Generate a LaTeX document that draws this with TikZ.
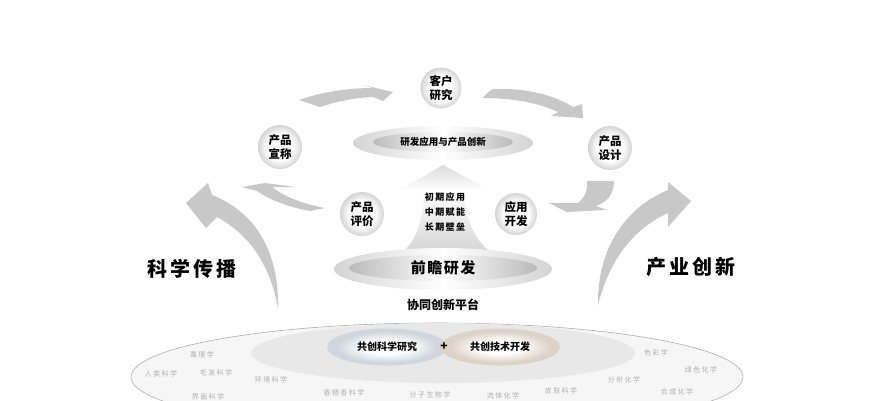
\documentclass[tikz,border=0pt]{standalone}
\usepackage{fontspec}
\setmainfont{Noto Sans CJK SC}
\newfontfamily\widefont[LetterSpace=16]{Noto Sans CJK SC}
\newfontfamily\subjfont[LetterSpace=20]{Noto Sans CJK SC}
\usetikzlibrary{shapes.geometric}
\definecolor{arrowgray}{RGB}{200,200,200}
\definecolor{platebg}{RGB}{246,246,246}
\definecolor{plateline}{RGB}{175,175,175}
\definecolor{midbg}{RGB}{232,232,232}
\definecolor{subjgray}{RGB}{175,175,175}
\definecolor{ballrim}{RGB}{212,212,212}
\definecolor{bluerim}{RGB}{208,214,222}
\definecolor{tanrim}{RGB}{221,210,200}
\pgfdeclareradialshading{ballshade}{\pgfpoint{0bp}{0bp}}{color(0bp)=(white); color(15bp)=(white); color(25bp)=(ballrim); color(50bp)=(ballrim)}
\pgfdeclareradialshading{bluishshade}{\pgfpoint{0bp}{0bp}}{color(0bp)=(white); color(9bp)=(white); color(21bp)=(bluerim); color(50bp)=(bluerim)}
\pgfdeclareradialshading{tanshade}{\pgfpoint{0bp}{0bp}}{color(0bp)=(white); color(9bp)=(white); color(21bp)=(tanrim); color(50bp)=(tanrim)}
\tikzset{
  ballnode/.style={circle,shade,shading=ballshade,minimum size=#1,inner sep=0pt,align=center,font=\fontsize{11.5}{14}\selectfont\bfseries},
  ringnode/.style={ellipse,left color=black!17,right color=black!17,middle color=white,inner sep=0pt},
  corenode/.style={ellipse,left color=black!27,right color=black!27,middle color=white,inner sep=0pt},
  flowarrow/.style={fill=arrowgray,draw=none},
  bigtext/.style={font=\fontsize{20}{22}\selectfont\widefont\bfseries},
  midtext/.style={font=\fontsize{9}{11}\selectfont\widefont\bfseries},
  subjtext/.style={text=subjgray,font=\fontsize{7}{8}\selectfont\subjfont}
}
\begin{document}
\begin{tikzpicture}[x=1pt,y=-1pt]
  \clip (0,0) rectangle (890,400);
  \fill [white] (0,0) rectangle (890,400);

  % Kreislauf
  \fill [flowarrow] (299,100) .. controls (325,91) and (350,88) .. (373,88) -- (363,85) -- (393,92) -- (383,101) -- (373,97) .. controls (352,98) and (335,102) .. (320,107) -- cycle;
  \fill [flowarrow] (483,98) .. controls (486,94) and (489,91) .. (493,89) .. controls (525,88) and (552,94) .. (573,107) -- (582,104) -- (583,118) -- (551,116) -- (558,112) .. controls (537,102) and (510,98) .. (483,98) -- cycle;
  \fill [flowarrow] (587,181) -- (614,181) .. controls (614,193) and (608,202) .. (596,206) -- (607,210) -- (567,212) -- (549,203) -- (578,203) .. controls (586,196) and (588,189) .. (587,181) -- cycle;
  \fill [flowarrow] (325,208) -- (310,211) .. controls (288,207) and (270,200) .. (257,191) -- (242,187) -- (265,183) -- (296,187) -- (272,187) .. controls (285,197) and (303,204) .. (325,208) -- cycle;

  % Wissenschaft
  \fill [flowarrow] (278,308) .. controls (279,260) and (262,215) .. (212,195) -- (208,183) -- (186,203) -- (206,228) -- (217,217) .. controls (250,235) and (270,265) .. (278,308) -- cycle;
  % Industrie
  \fill [flowarrow] (598,305) .. controls (597,255) and (620,210) .. (668,190) -- (668,182) -- (691,201) -- (668,227) -- (668,213) .. controls (630,230) and (608,265) .. (598,305) -- cycle;
  \node (sci) [bigtext] at (192,269) {科学传播};
  \node (ind) [bigtext] at (691,267) {产业创新};

  % Kugeln
  \node (kehu) [ballnode=41pt] at (441,88) {客户\\研究};
  \node (xuan) [ballnode=44pt] at (280,147) {产品\\宣称};
  \node (sheji) [ballnode=44pt] at (610,148) {产品\\设计};
  \node (pingjia) [ballnode=44pt] at (362,214) {产品\\评价};
  \node (kaifa) [ballnode=42pt] at (516,214) {应用\\开发};

  % oben
  \node (toprim) [ringnode,minimum width=180pt,minimum height=34pt] at (443,143) {};
  \node (topcore) [corenode,minimum width=140pt,minimum height=20pt,font=\fontsize{9.5}{11}\selectfont\bfseries] at (443,142) {研发应用与产品创新};

  % Pfeil
  \shade [top color=black!14,bottom color=white,shading angle=0] (443,165) -- (490,190) -- (400,190) -- cycle;
  \shade [top color=white,bottom color=black!16] (424,190) -- (463,190) .. controls (466,220) and (474,238) .. (488,250) -- (405,250) .. controls (417,238) and (423,220) .. (424,190) -- cycle;
  \node (early) [midtext] at (445,197) {初期应用};
  \node (mid) [midtext] at (445,212) {中期赋能};
  \node (long) [midtext] at (445,227) {长期壁垒};

  % unten
  \node (lowrim) [ringnode,minimum width=218pt,minimum height=42pt] at (443,269) {};
  \node (lowcore) [corenode,minimum width=188pt,minimum height=26pt,font=\fontsize{15}{17}\selectfont\bfseries\addfontfeature{LetterSpace=10}] at (443,268) {前瞻研发};
  \node (xietong) [font=\fontsize{12}{14}\selectfont\bfseries] at (443,305) {协同创新平台};

  % Plattform
  \node (plate) [ellipse,fill=platebg,draw=plateline,line width=0.6pt,minimum width=612pt,minimum height=108pt,inner sep=0pt] at (437,377) {};
  \node (midplate) [ellipse,fill=midbg,minimum width=384pt,minimum height=60pt,inner sep=0pt] at (443,353) {};
  \node (gongke) [ellipse,shade,shading=bluishshade,minimum width=120pt,minimum height=37pt,inner sep=0pt,font=\fontsize{10}{12}\selectfont\bfseries] at (387,347) {共创科学研究};
  \node (gongji) [ellipse,shade,shading=tanshade,minimum width=120pt,minimum height=37pt,inner sep=0pt,font=\fontsize{10}{12}\selectfont\bfseries] at (500,347) {共创技术开发};
  \node (plus) [font=\fontsize{12}{14}\selectfont\bfseries] at (444,347) {+};

  % Fachgebiete
  \foreach \px/\py/\subj/\nm in {
    202/355/毒理学/s1, 161/374/人类科学/s2, 216/373/毛发科学/s3, 271/380/环境科学/s4,
    208/397/界面科学/s5, 344/393/香精香料学/s6, 430/395/分子生物学/s7, 503/396/流体化学/s8,
    561/391/皮肤科学/s9, 624/380/分析化学/s10, 656/353/色彩学/s11, 701/370/绿色化学/s12, 677/392/合成化学/s13}
    \node (\nm) [subjtext] at (\px,\py) {\subj};
\end{tikzpicture}
\end{document}
